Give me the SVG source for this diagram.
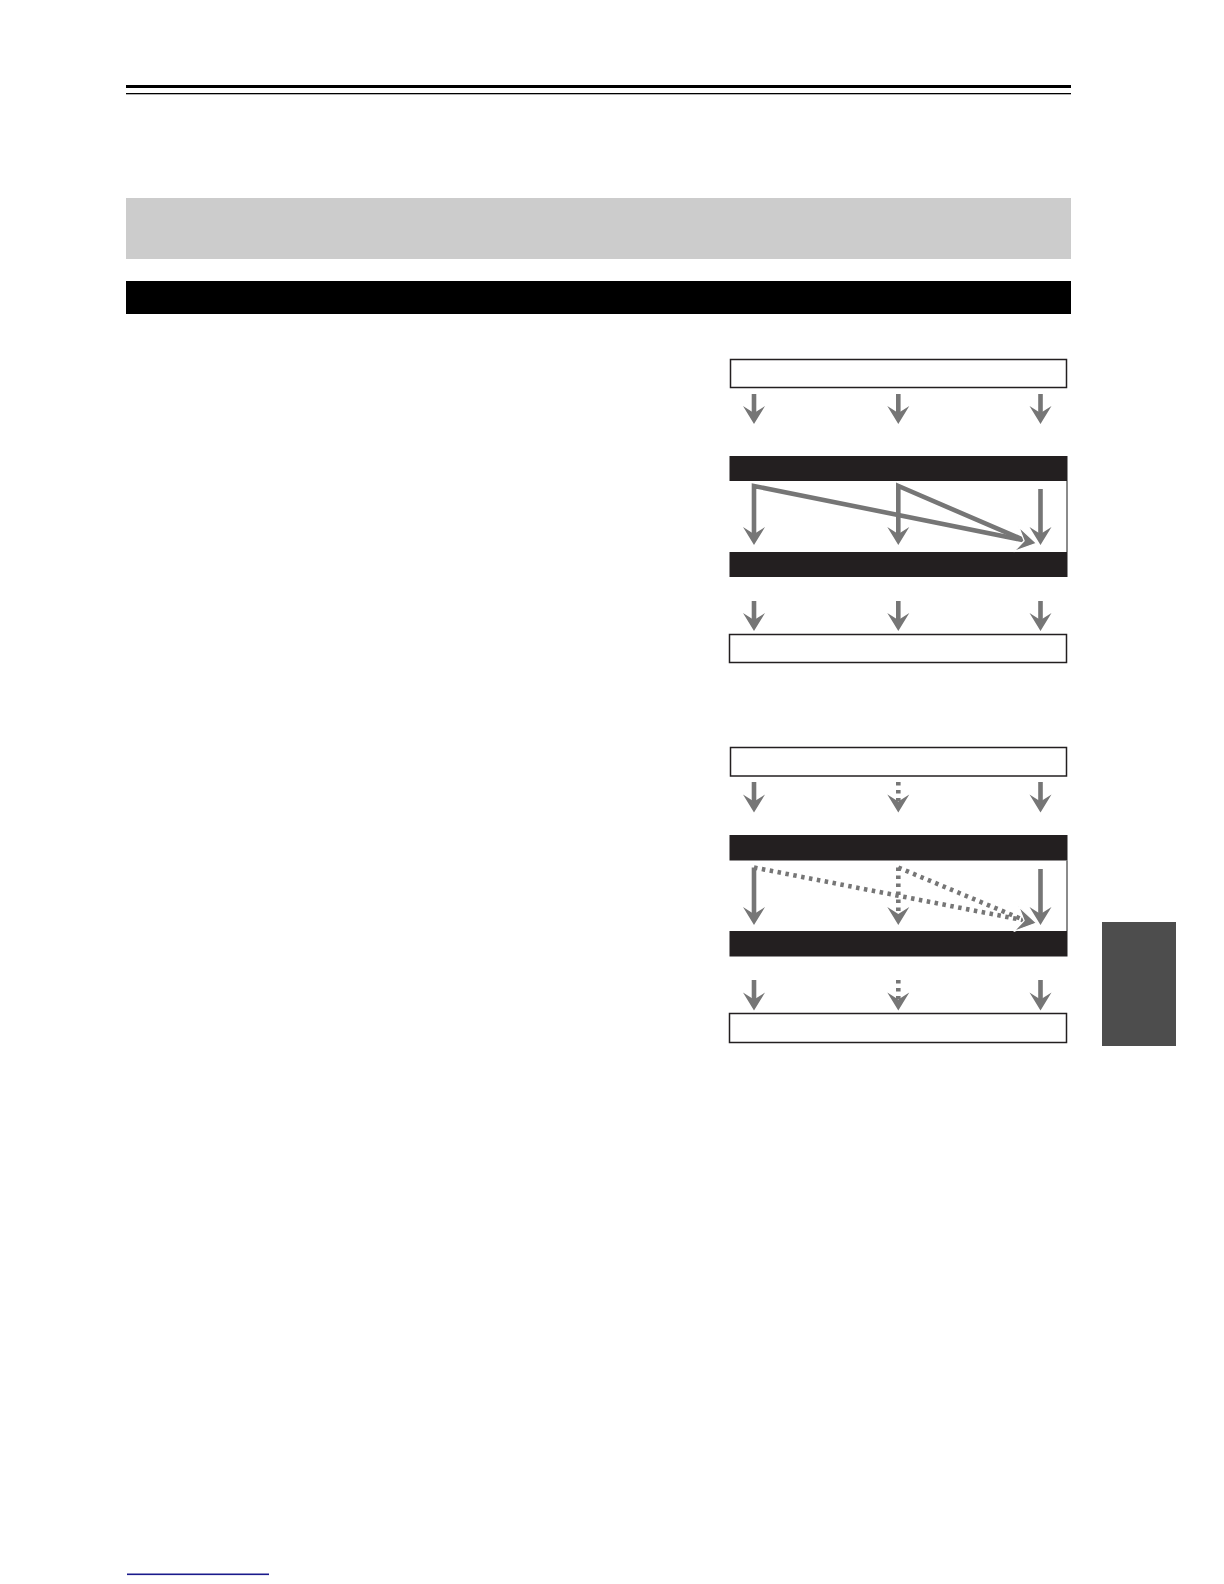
<svg xmlns="http://www.w3.org/2000/svg" xmlns:xlink="http://www.w3.org/1999/xlink" width="1224" height="1584" viewBox="0 0 1224 1584">
<style>
.box{fill:#fff;stroke:#231f20;stroke-width:1.5}
.bar{fill:#231f20}
.edge{stroke:#5a5a5a;stroke-width:1.4;fill:none}
.sh{stroke:#767676;stroke-width:4.6;fill:none;stroke-linejoin:miter;stroke-miterlimit:20}
.dot{stroke:#767676;stroke-width:4.6;fill:none;stroke-dasharray:3.5 4.5}
.hd{fill:#767676}
.hdw{fill:#767676;stroke:#fff;stroke-width:1.1}
</style>
<defs>
<path id="head" d="M-11,-18 L0,0 L11,-18 L0,-11 Z"/>
</defs>
<rect width="1224" height="1584" fill="#fff"/>
<g id="page">
<rect x="126" y="85" width="945" height="3" fill="#000"/>
<rect x="126" y="93" width="945" height="1.3" fill="#000"/>
<rect x="126" y="198" width="945" height="61" fill="#cccccc"/>
<rect x="126" y="281" width="945" height="33" fill="#000"/>
<rect x="1102" y="922" width="74" height="124" fill="#4d4d4d"/>
<rect x="127" y="1573.5" width="142" height="1.6" fill="#1a1a8c"/>
</g>
<g id="diagram1">
<g id="d1-top"><rect class="box" x="730.5" y="359.5" width="336" height="28"/></g>
<g id="d1-bar1"><rect class="bar" x="729.5" y="456" width="338" height="25"/></g>
<line class="edge" x1="1067" y1="481" x2="1067" y2="552"/>
<g id="d1-bar2"><rect class="bar" x="729.5" y="552" width="338" height="25"/></g>
<g id="d1-bottom"><rect class="box" x="729.5" y="634.5" width="337" height="28"/></g>
</g>
<g id="diagram2">
<g id="d2-top"><rect class="box" x="730.5" y="747.5" width="336" height="28.5"/></g>
<g id="d2-bar1"><rect class="bar" x="729.5" y="835" width="338" height="25.5"/></g>
<line class="edge" x1="1067" y1="860.5" x2="1067" y2="931"/>
<g id="d2-bar2"><rect class="bar" x="729.5" y="931" width="338" height="25.5"/></g>
<g id="d2-bottom"><rect class="box" x="729.5" y="1013.5" width="337" height="29"/></g>
</g>
<g id="connectors">
<line class="sh" x1="754" y1="394" x2="754" y2="414"/>
<use href="#head" class="hd" transform="translate(754,424)"/>
<line class="sh" x1="898.3" y1="394" x2="898.3" y2="414"/>
<use href="#head" class="hd" transform="translate(898.3,424)"/>
<line class="sh" x1="1040.5" y1="394" x2="1040.5" y2="414"/>
<use href="#head" class="hd" transform="translate(1040.5,424)"/>
<polyline class="sh" points="754,535 754,486 1025,540.5"/>
<use href="#head" class="hd" transform="translate(754,545)"/>
<polyline class="sh" points="898.3,535 898.3,486 1025,540.5"/>
<use href="#head" class="hd" transform="translate(898.3,545)"/>
<line class="sh" x1="1040.5" y1="489" x2="1040.5" y2="535"/>
<use href="#head" class="hd" transform="translate(1040.5,545)"/>
<use href="#head" class="hdw" transform="translate(1036.5,543.3) rotate(-78.6) scale(1.15)"/>
<line class="sh" x1="754" y1="601" x2="754" y2="621"/>
<use href="#head" class="hd" transform="translate(754,631)"/>
<line class="sh" x1="898.3" y1="601" x2="898.3" y2="621"/>
<use href="#head" class="hd" transform="translate(898.3,631)"/>
<line class="sh" x1="1040.5" y1="601" x2="1040.5" y2="621"/>
<use href="#head" class="hd" transform="translate(1040.5,631)"/>
<line class="sh" x1="754" y1="782" x2="754" y2="802"/>
<use href="#head" class="hd" transform="translate(754,812.5)"/>
<line class="dot" x1="898.3" y1="782" x2="898.3" y2="801"/>
<use href="#head" class="hd" transform="translate(898.3,812.5)"/>
<line class="sh" x1="1040.5" y1="782" x2="1040.5" y2="802"/>
<use href="#head" class="hd" transform="translate(1040.5,812.5)"/>
<line class="sh" x1="754" y1="867.5" x2="754" y2="915"/>
<use href="#head" class="hd" transform="translate(754,925)"/>
<line class="dot" x1="754" y1="867.5" x2="1025" y2="920.5"/>
<line class="dot" x1="898.3" y1="867.5" x2="898.3" y2="913"/>
<use href="#head" class="hd" transform="translate(898.3,925)"/>
<line class="dot" x1="898.3" y1="867.5" x2="1025" y2="920.5"/>
<line class="sh" x1="1040.5" y1="869" x2="1040.5" y2="915"/>
<use href="#head" class="hd" transform="translate(1040.5,925)"/>
<use href="#head" class="hdw" transform="translate(1036.5,923) rotate(-78.9) scale(1.15)"/>
<line class="sh" x1="754" y1="980" x2="754" y2="1000"/>
<use href="#head" class="hd" transform="translate(754,1010.5)"/>
<line class="dot" x1="898.3" y1="980" x2="898.3" y2="999"/>
<use href="#head" class="hd" transform="translate(898.3,1010.5)"/>
<line class="sh" x1="1040.5" y1="980" x2="1040.5" y2="1000"/>
<use href="#head" class="hd" transform="translate(1040.5,1010.5)"/>
</g>
</svg>
